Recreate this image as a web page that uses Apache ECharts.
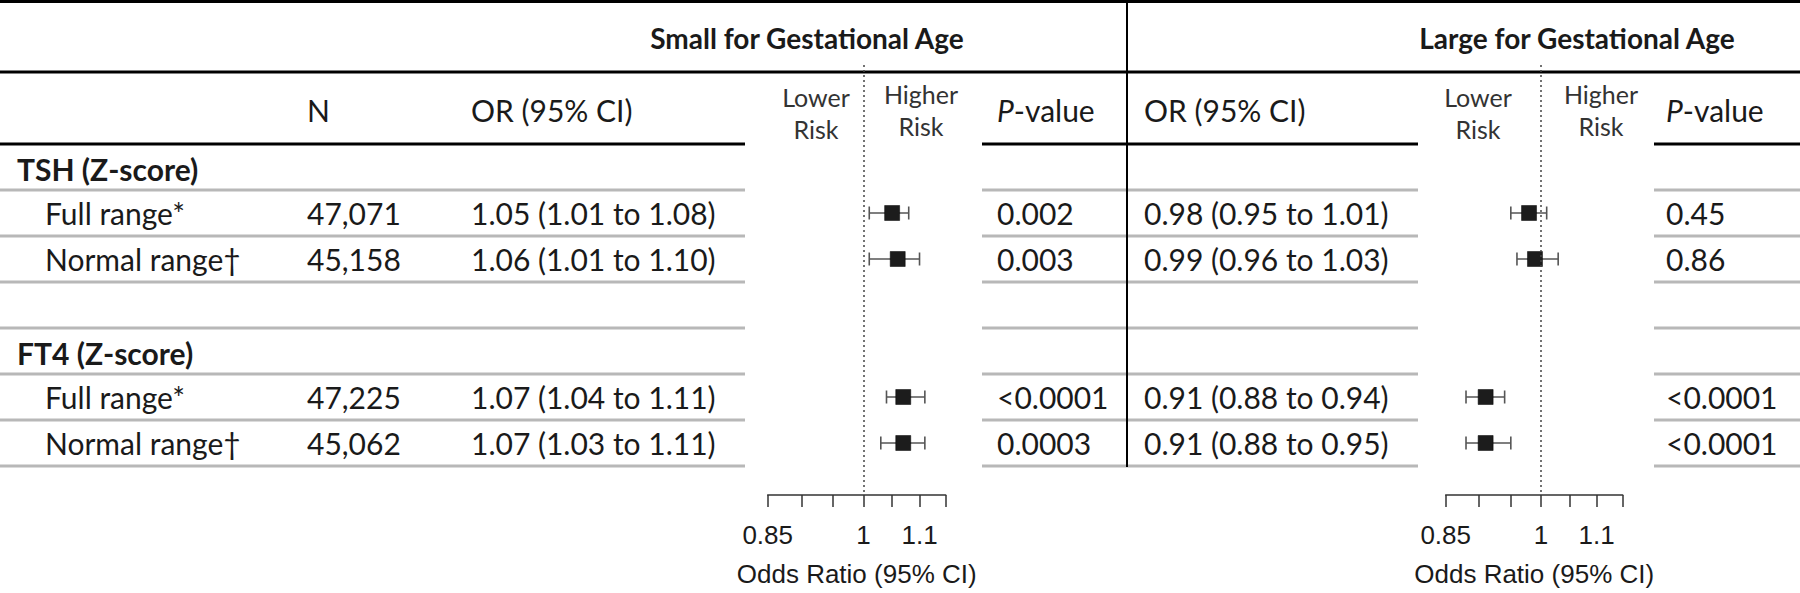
<!DOCTYPE html>
<html><head><meta charset="utf-8">
<script src="https://cdn.jsdelivr.net/npm/echarts@6/dist/echarts.min.js"></script>
<style>html,body{margin:0;padding:0;background:#fff}#c{width:1800px;height:593px}</style>
</head><body><div id="c"></div>
<script>
// ---------------- data ----------------
const outcomes = ['Small for Gestational Age', 'Large for Gestational Age'];
const rowLabels = ['TSH (Z-score)', 'Full range*', 'Normal range\u2020', '', 'FT4 (Z-score)', 'Full range*', 'Normal range\u2020'];
const rowIsGroup = [true, false, false, false, true, false, false];
const estimateRows = [1, 2, 5, 6];
const nValues = [47071, 45158, 47225, 45062];
const sgaOR = [1.05, 1.06, 1.07, 1.07];
const sgaLo = [1.01, 1.01, 1.04, 1.03];
const sgaHi = [1.08, 1.10, 1.11, 1.11];
const sgaP = ['0.002', '0.003', '<0.0001', '0.0003'];
const lgaOR = [0.98, 0.99, 0.91, 0.91];
const lgaLo = [0.95, 0.96, 0.88, 0.88];
const lgaHi = [1.01, 1.03, 0.94, 0.95];
const lgaP = ['0.45', '0.86', '<0.0001', '<0.0001'];
const axisTickValues = [0.85, 0.9, 0.95, 1, 1.05, 1.1, 1.15];
const axisLabelValues = [0.85, 1, 1.1];
const axisTitle = 'Odds Ratio (95% CI)';
const riskLabels = ['Lower\nRisk', 'Higher\nRisk'];

// ---------------- layout ----------------
const TXT = '#1a1a1a';
const FONT = 'Lato, "Noto Sans", sans-serif';
const AXFONT = 'Liberation Sans';
const ROW_TOP = 144, ROW_H = 46, NROWS = 7;
const GRID_TOP = 65, GRID_BOTTOM = 495;
const grids = [{ left: 767.7, width: 178 }, { left: 1445.7, width: 177 }];
const segs = [[0, 745], [982, 1418], [1654, 1800]];
const colX = { label: 17, sub: 45, n: 307, or1: 471, p1: 997, or2: 1144, p2: 1666 };

function txt(x, y, text, extra) {
  return { type: 'text', x, y, silent: true, z: 10,
    style: Object.assign({ text, fill: TXT, fontFamily: FONT, fontSize: 30, fontWeight: 'normal',
      align: 'left', verticalAlign: 'middle' }, extra || {}) };
}
function line(x1, y1, x2, y2, color, w) {
  return { type: 'line', silent: true, z: 5, shape: { x1, y1, x2, y2 }, style: { stroke: color, lineWidth: w } };
}
const fmtOR = (o, l, h) => o.toFixed(2) + ' (' + l.toFixed(2) + ' to ' + h.toFixed(2) + ')';
const rowY = r => ROW_TOP + ROW_H * (r + 0.5);

const graphic = [];
// rules
graphic.push(line(0, 1.5, 1800, 1.5, '#000', 3));
graphic.push(line(0, 72, 1800, 72, '#000', 3));
segs.forEach(s => {
  graphic.push(line(s[0], ROW_TOP, s[1], ROW_TOP, '#000', 3));
  for (let k = 1; k <= NROWS; k++) graphic.push(line(s[0], ROW_TOP + ROW_H * k, s[1], ROW_TOP + ROW_H * k, '#b8b8b8', 3));
});
graphic.push(line(1127, 0, 1127, ROW_TOP + ROW_H * NROWS + 1, '#000', 2));

// section headers
graphic.push(txt(807, 38, outcomes[0], { fontWeight: 'bold', fontSize: 28, align: 'center' }));
graphic.push(txt(1577, 38, outcomes[1], { fontWeight: 'bold', fontSize: 28, align: 'center' }));

// column headers
const pRich = { i: { fontStyle: 'italic', fontFamily: FONT, fontSize: 30, fill: TXT } };
graphic.push(txt(colX.n, 110, 'N'));
graphic.push(txt(colX.or1, 110, 'OR (95% CI)'));
graphic.push(txt(colX.p1, 110, '{i|P}-value', { rich: pRich }));
graphic.push(txt(colX.or2, 110, 'OR (95% CI)'));
graphic.push(txt(colX.p2, 110, '{i|P}-value', { rich: pRich }));
// risk labels
const riskPos = [[816, 113, 921, 110], [1478, 113, 1601, 110]];
riskPos.forEach(p => {
  graphic.push(txt(p[0], p[1], riskLabels[0], { fontSize: 25, lineHeight: 32, align: 'center', fill: '#333' }));
  graphic.push(txt(p[2], p[3], riskLabels[1], { fontSize: 25, lineHeight: 32, align: 'center', fill: '#333' }));
});

// row labels
rowLabels.forEach((lab, r) => {
  if (!lab) return;
  if (rowIsGroup[r]) graphic.push(txt(colX.label, rowY(r) + 2, lab, { fontWeight: 'bold' }));
  else graphic.push(txt(colX.sub, rowY(r), lab));
});
// values
estimateRows.forEach((r, i) => {
  const y = rowY(r);
  graphic.push(txt(colX.n, y, nValues[i].toLocaleString('en-US')));
  graphic.push(txt(colX.or1, y, fmtOR(sgaOR[i], sgaLo[i], sgaHi[i])));
  graphic.push(txt(colX.p1, y, sgaP[i]));
  graphic.push(txt(colX.or2, y, fmtOR(lgaOR[i], lgaLo[i], lgaHi[i])));
  graphic.push(txt(colX.p2, y, lgaP[i]));
});

// ---------------- forest plots ----------------
const yMin = (GRID_TOP - ROW_TOP) / ROW_H, yMax = (GRID_BOTTOM - ROW_TOP) / ROW_H;
const sets = [[sgaOR, sgaLo, sgaHi], [lgaOR, lgaLo, lgaHi]];
const xAxes = [], yAxes = [], series = [];
grids.forEach((g, gi) => {
  xAxes.push({
    type: 'log', logBase: 10, gridIndex: gi, min: 0.85, max: 1.15,
    axisLine: { show: true, onZero: false, lineStyle: { color: '#333', width: 1.5 } },
    axisTick: { show: true, inside: false, length: 12, customValues: axisTickValues, lineStyle: { color: '#333', width: 1.5 } },
    axisLabel: { customValues: axisLabelValues, margin: 27, fontSize: 26, fontFamily: AXFONT, color: TXT,
      formatter: v => String(parseFloat(Number(v).toFixed(2))) },
    splitLine: { show: false }, minorTick: { show: false }, minorSplitLine: { show: false },
    name: axisTitle, nameLocation: 'middle', nameGap: 66,
    nameTextStyle: { fontSize: 26, fontFamily: AXFONT, color: TXT }
  });
  yAxes.push({ type: 'value', gridIndex: gi, inverse: true, min: yMin, max: yMax, show: false });
  const s = sets[gi];
  series.push({
    type: 'custom', xAxisIndex: gi, yAxisIndex: gi, z: 2,
    data: estimateRows.map((r, i) => [s[1][i], s[2][i], r + 0.5]),
    encode: { x: [0, 1], y: 2 },
    renderItem: (params, api) => {
      const y = api.value(2);
      const a = api.coord([api.value(0), y]);
      const b = api.coord([api.value(1), y]);
      const h = 6.5, st = { stroke: '#555', lineWidth: 1.6 };
      return { type: 'group', children: [
        { type: 'line', shape: { x1: a[0], y1: a[1], x2: b[0], y2: b[1] }, style: st },
        { type: 'line', shape: { x1: a[0], y1: a[1] - h, x2: a[0], y2: a[1] + h }, style: st },
        { type: 'line', shape: { x1: b[0], y1: b[1] - h, x2: b[0], y2: b[1] + h }, style: st }
      ] };
    }
  });
  series.push({
    type: 'scatter', xAxisIndex: gi, yAxisIndex: gi, z: 3,
    symbol: 'rect', symbolSize: 15,
    itemStyle: { color: '#1c1c1c', borderColor: '#000', borderWidth: 0.5, opacity: 1 },
    data: estimateRows.map((r, i) => [s[0][i], r + 0.5]),
    markLine: { silent: true, symbol: ['none', 'none'], label: { show: false },
      lineStyle: { type: [2, 3], color: '#444', width: 1.5 },
      data: [{ xAxis: 1 }] }
  });
});

const chart = echarts.init(document.getElementById('c'), null, { renderer: 'svg', width: 1800, height: 593 });
chart.setOption({
  animation: false,
  backgroundColor: '#fff',
  grid: grids.map(g => ({ left: g.left, width: g.width, top: GRID_TOP, height: GRID_BOTTOM - GRID_TOP, containLabel: false })),
  xAxis: xAxes, yAxis: yAxes, series, graphic
});
</script></body></html>
